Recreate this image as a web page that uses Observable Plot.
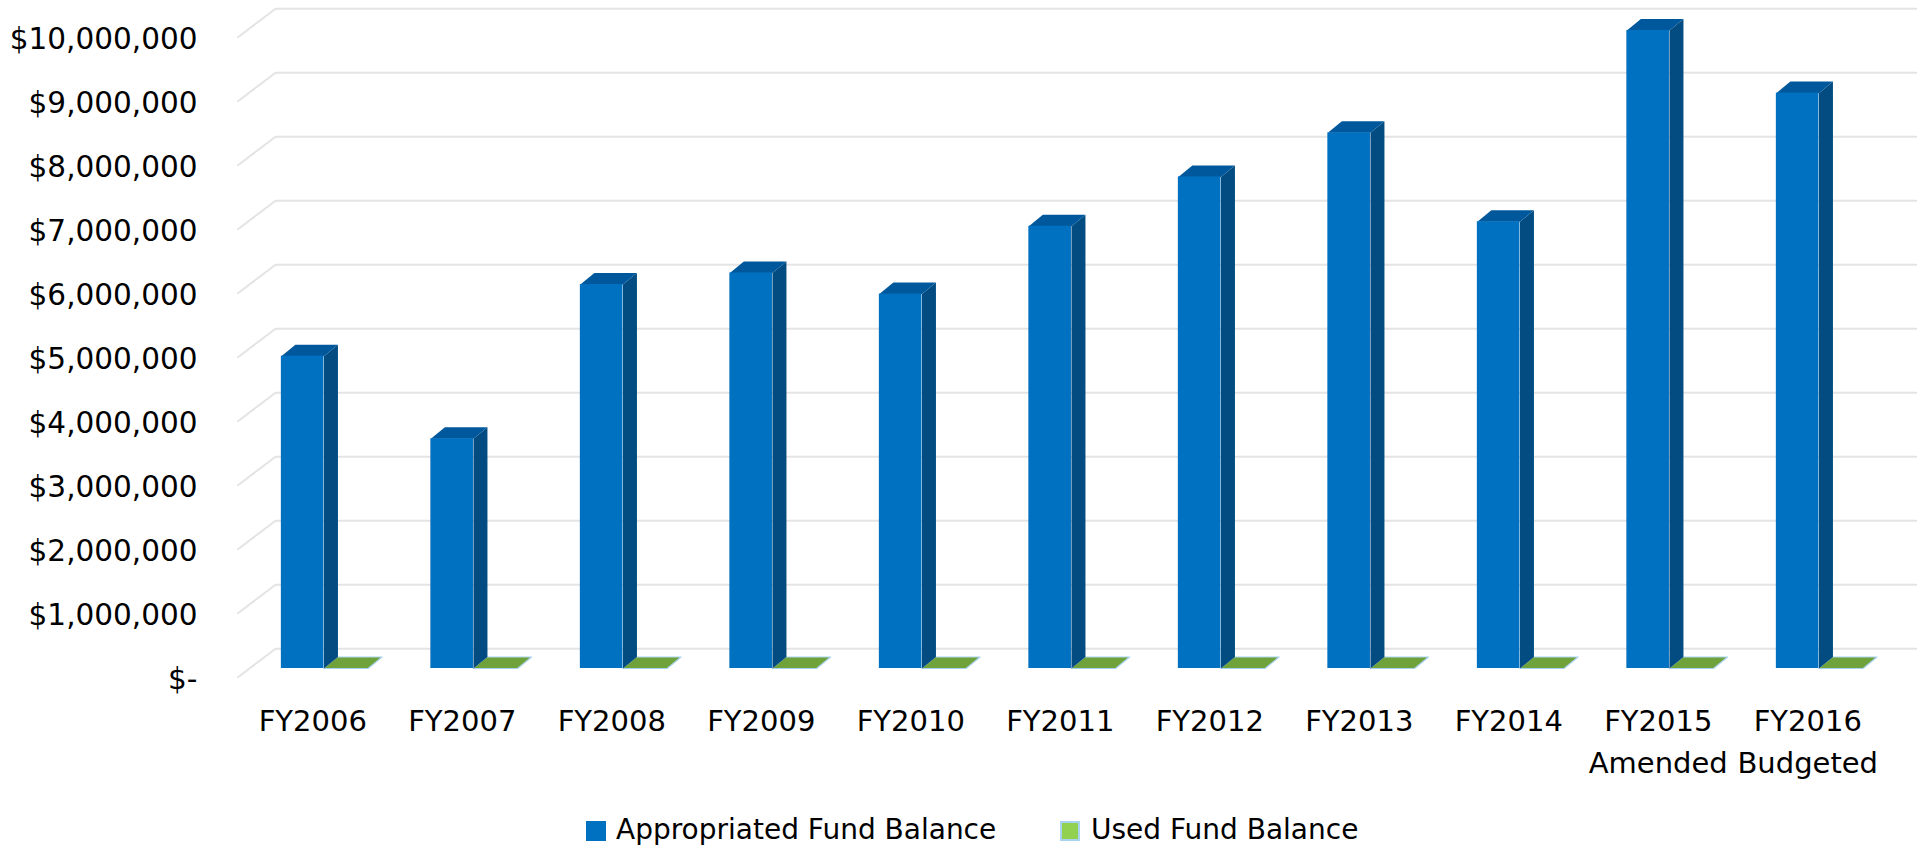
<!DOCTYPE html>
<html>
<head>
<meta charset="utf-8">
<script src="https://cdn.jsdelivr.net/npm/d3@7"></script>
<script src="https://cdn.jsdelivr.net/npm/@observablehq/plot@0.6"></script>
<style>
html,body{margin:0;padding:0;background:#fff;font-family:"DejaVu Sans",sans-serif;overflow:hidden}
#legend{position:relative;height:50px;font-size:28px;color:#000}
#legend span{position:absolute;white-space:nowrap;line-height:30px;top:15px}
#legend i{position:absolute;display:block;width:20px;height:20px;top:21px;box-sizing:border-box}
</style>
</head>
<body>
<div id="chart"></div>
<div id="legend"></div>
<script>
const categories = ["FY2006","FY2007","FY2008","FY2009","FY2010","FY2011","FY2012","FY2013","FY2014","FY2015\nAmended","FY2016\nBudgeted"];
const appropriated = [4880000,3590000,6000000,6180000,5850000,6910000,7680000,8370000,6980000,9970000,8990000];
const used = [0,0,0,0,0,0,0,0,0,0,0];
const yTicks = [0,1000000,2000000,3000000,4000000,5000000,6000000,7000000,8000000,9000000,10000000];
const seriesNames = ["Appropriated Fund Balance","Used Fund Balance"];

// oblique 3-D construction, in data units
const barOffset = 0.29, barWidth = 0.285, usedWidth = 0.295;
const depthX = 0.0936, depthY = 180000;
const wallX = 0.251, wallY = 308000, floorY = -136000, wallEnd = 11.234;

const colors = {front:"#0070c0", side:"#024c82", top:"#00589c", edge:"#a9d3ee", used:"#70a23c", grid:"#e4e4e4", legendUsed:"#92d050"};

const poly = (pts, id) => pts.map(([x, y]) => ({x, y, id}));
const sides = [], tops = [], floors = [], gridBack = [], gridLeft = [];
appropriated.forEach((v, i) => {
  const x0 = i + barOffset, x1 = x0 + barWidth;
  sides.push(...poly([[x1,0],[x1+depthX,depthY],[x1+depthX,v+depthY],[x1,v]], i));
  tops.push(...poly([[x0,v],[x1,v],[x1+depthX,v+depthY],[x0+depthX,v+depthY]], i));
  const u = used[i], x2 = x1 + usedWidth;
  floors.push(...poly([[x1,u],[x2,u],[x2+depthX,u+depthY],[x1+depthX,u+depthY]], i));
});
yTicks.forEach(t => {
  gridBack.push({x1: wallX, x2: wallEnd, y: t + wallY});
  gridLeft.push(...poly([[0, t + floorY],[wallX, t + wallY]], t));
});
const bars = appropriated.map((v, i) => ({x1: i + barOffset, x2: i + barOffset + barWidth, y: v}));

const chart = Plot.plot({
  width: 1925,
  height: 800,
  marginLeft: 200,
  marginTop: 0,
  marginRight: 0,
  marginBottom: 100,
  x: {type: "linear", domain: [0, 11], range: [237.5, 1882], axis: null},
  y: {type: "linear", domain: [0, 10000000], range: [668, 28]},
  style: {fontFamily: "DejaVu Sans", background: "#fff"},
  marks: [
    Plot.ruleY(gridBack, {y: "y", x1: "x1", x2: "x2", stroke: colors.grid, strokeWidth: 2}),
    Plot.line(gridLeft, {x: "x", y: "y", z: "id", stroke: colors.grid, strokeWidth: 2}),
    Plot.line(floors, {x: "x", y: "y", z: "id", fill: colors.used, stroke: colors.edge, strokeWidth: 1.2}),
    Plot.line(sides, {x: "x", y: "y", z: "id", fill: colors.side, stroke: "none"}),
    Plot.line(tops, {x: "x", y: "y", z: "id", fill: colors.top, stroke: "none"}),
    Plot.rect(bars, {x1: "x1", x2: "x2", y1: 0, y2: "y", fill: colors.front}),
    Plot.axisY({
      ticks: yTicks, tickSize: 0, tickPadding: 3, dy: 11, label: null,
      fontSize: 29.5, fill: "#000",
      tickFormat: v => v === 0 ? "$-" : d3.format("$,")(v)
    }),
    Plot.text(categories, {
      x: (d, i) => i + 0.5, frameAnchor: "bottom", lineAnchor: "top", dy: 0,
      lineHeight: 1.46, fontSize: 29, fill: "#000", text: d => d
    })
  ]
});
document.getElementById("chart").appendChild(chart);

const legend = document.getElementById("legend");
[[586, 616, colors.front, "none"], [1060, 1091, colors.legendUsed, "2px solid " + colors.edge]].forEach(([sx, tx, c, b], i) => {
  const sw = document.createElement("i");
  sw.style.left = sx + "px"; sw.style.background = c; sw.style.border = b;
  const t = document.createElement("span");
  t.style.left = tx + "px"; t.textContent = seriesNames[i];
  legend.append(sw, t);
});
</script>
</body>
</html>
